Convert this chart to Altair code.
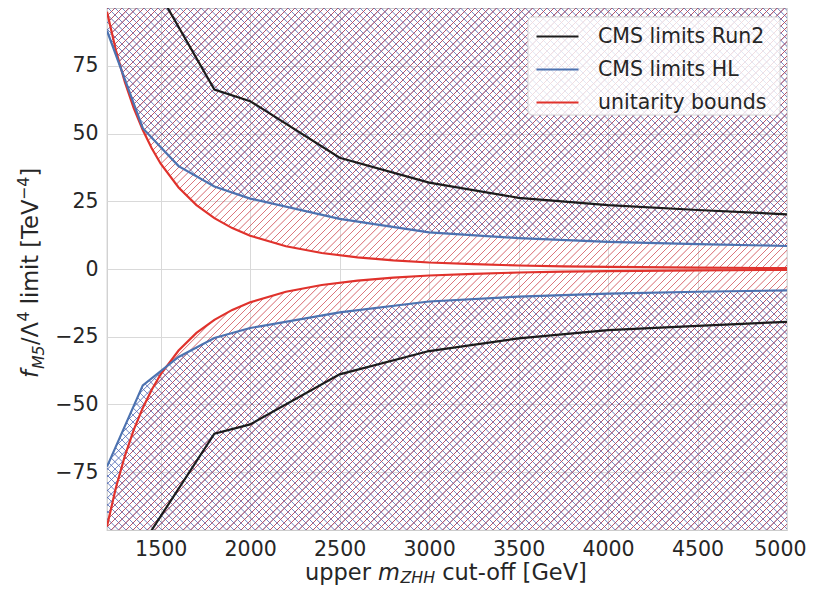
import altair as alt
import pandas as pd

# ---------------- data ----------------
series_names = ["CMS limits Run2", "CMS limits HL", "unitarity bounds"]
series_colors = ["#1c1c1c", "#4c72b0", "#e0322c"]

unit_x = [1200, 1250, 1300, 1350, 1400, 1450, 1500, 1600, 1700, 1800, 1900, 2000,
          2200, 2400, 2600, 2800, 3000, 3250, 3500, 3750, 4000, 4500, 5000]
unit_up = [95.0, 80.7, 69.0, 59.3, 51.3, 44.6, 38.9, 30.1, 23.6, 18.8, 15.1, 12.3,
           8.4, 5.9, 4.3, 3.2, 2.4, 1.77, 1.3, 1.0, 0.77, 0.48, 0.32]
unit_lo = [-95.0, -80.7, -69.0, -59.3, -51.3, -44.6, -38.9, -30.1, -23.6, -18.8, -15.1, -12.3,
           -8.4, -5.9, -4.3, -3.2, -2.4, -1.77, -1.3, -1.0, -0.77, -0.48, -0.32]

hl_x = [1200, 1400, 1600, 1800, 2000, 2500, 3000, 3500, 4000, 4500, 5000]
hl_up = [88.0, 52.0, 38.0, 30.5, 26.0, 18.5, 13.5, 11.4, 10.0, 9.2, 8.5]
hl_lo = [-73.0, -43.0, -32.5, -25.5, -21.8, -16.0, -12.0, -10.2, -9.1, -8.4, -7.9]

run2_x = [1400, 1800, 2000, 2500, 3000, 3500, 4000, 4500, 5000]
run2_up = [112.5, 66.3, 62.0, 41.1, 31.9, 26.3, 23.6, 21.8, 20.2]
run2_lo = [-101.5, -60.8, -57.4, -38.9, -30.3, -25.6, -22.6, -21.0, -19.5]

x_ticks = [1500, 2000, 2500, 3000, 3500, 4000, 4500, 5000]
y_ticks = [-75, -50, -25, 0, 25, 50, 75]

# ---------------- layout / style ----------------
W, H = 680, 522
X_DOM = [1200, 5000]
Y_DOM = [-96.4, 96.4]
FONT = "DejaVu Sans"
TXT = "#262626"
TICK_FS = 20.5
LAB_FS = 22.5
SUB_FS = 15.75
PERIOD = 7.2


def ypix(v):
    return (Y_DOM[1] - v) / (Y_DOM[1] - Y_DOM[0]) * H


def hatch(rgb, alpha, y0, box_h, kind, period=PERIOD):
    """Stripe pattern as a linear gradient over the area's bounding box,
    phased so that stripes of all areas sit on one common grid."""
    total = W + box_h
    a = total / (W ** 2 + box_h ** 2)
    clear = f"rgba({rgb},0)"
    solid = f"rgba({rgb},{alpha})"
    prof = [(0.0, clear), (0.45, solid), (1.05, solid), (1.5, clear)]
    phase = (-y0) % period if kind == "/" else (y0 + box_h) % period
    stops = [alt.GradientStop(color=clear, offset=0)]
    i = -1
    while phase + i * period < total:
        for d, c in prof:
            off = (phase + i * period + d) / total
            if 0 < off <= 1:
                stops.append(alt.GradientStop(color=c, offset=round(off, 6)))
        i += 1
    if kind == "/":
        return alt.LinearGradient(gradient="linear", stops=stops,
                                  x1=0, y1=0, x2=round(a * W, 6), y2=round(a * box_h, 6))
    return alt.LinearGradient(gradient="linear", stops=stops,
                              x1=0, y1=1, x2=round(a * W, 6), y2=round(1 - a * box_h, 6))


xenc = alt.X("x:Q", scale=alt.Scale(domain=X_DOM, nice=False, zero=False),
             axis=alt.Axis(values=x_ticks, format="d", title=None,
                           labelFlush=4, labelFlushOffset=19))
yenc = alt.Y("y:Q", scale=alt.Scale(domain=Y_DOM, nice=False, zero=False),
             axis=alt.Axis(values=y_ticks, format="d", title=None, labelFlush=False))


def area_layer(xs, ys, bound, grad):
    df = pd.DataFrame({"x": xs, "y": ys, "b": [bound] * len(xs)})
    return alt.Chart(df).mark_area(color=grad, interpolate="linear").encode(
        x=xenc, y=yenc, y2="b:Q")


RED_H = "205,66,74"
BLUE_H = "84,108,182"

# bounding boxes (top y, height) of the four hatched regions, in plot pixels
up_red = (0.0, ypix(min(unit_up)))
lo_red = (ypix(max(unit_lo)), H - ypix(max(unit_lo)))
up_hl = (0.0, ypix(min(hl_up)))
lo_hl = (ypix(max(hl_lo)), H - ypix(max(hl_lo)))

areas = [
    area_layer(hl_x, hl_up, Y_DOM[1], hatch(BLUE_H, 0.8, *up_hl, "/")),
    area_layer(hl_x, hl_up, Y_DOM[1], hatch(BLUE_H, 0.8, *up_hl, "\\")),
    area_layer(hl_x, hl_lo, Y_DOM[0], hatch(BLUE_H, 0.8, *lo_hl, "/")),
    area_layer(hl_x, hl_lo, Y_DOM[0], hatch(BLUE_H, 0.8, *lo_hl, "\\")),
    area_layer(unit_x, unit_up, Y_DOM[1], hatch(RED_H, 0.72, *up_red, "/")),
    area_layer(unit_x, unit_lo, Y_DOM[0], hatch(RED_H, 0.72, *lo_red, "/")),
]

rows = []
for name, xs, up, lo in [("unitarity bounds", unit_x, unit_up, unit_lo),
                         ("CMS limits HL", hl_x, hl_up, hl_lo),
                         ("CMS limits Run2", run2_x, run2_up, run2_lo)]:
    for xv, yv in zip(xs, up):
        rows.append({"series": name, "branch": name + " up", "x": xv, "y": yv})
    for xv, yv in zip(xs, lo):
        rows.append({"series": name, "branch": name + " lo", "x": xv, "y": yv})
lines_df = pd.DataFrame(rows)

lines = alt.Chart(lines_df).mark_line(clip=True, strokeWidth=2.2).encode(
    x=xenc, y=yenc,
    color=alt.Color("series:N", sort=series_names,
                    scale=alt.Scale(domain=series_names, range=series_colors),
                    legend=alt.Legend(title=None, orient="none", legendX=428, legendY=6,
                                      symbolType="stroke", symbolSize=1764,
                                      symbolStrokeWidth=2.2, labelFontSize=TICK_FS,
                                      labelFont=FONT, labelColor=TXT, labelOffset=18,
                                      labelLimit=400, rowPadding=-15, padding=0)),
    detail="branch:N",
)

one = pd.DataFrame({"k": [0]})

# legend frame (semi-transparent white box behind the legend entries)
legend_box = alt.Chart(one).mark_rect(
    fill="white", fillOpacity=0.8, stroke="#d6d6d6", strokeWidth=1, cornerRadius=4
).encode(x=alt.value(421), x2=alt.value(673), y=alt.value(9), y2=alt.value(107))


def label(text, x, y, size, italic=False, angle=0):
    m = dict(text=text, font=FONT, fontSize=size, color=TXT, align="left",
             baseline="alphabetic")
    if italic:
        m["fontStyle"] = "italic"
    if angle:
        m["angle"] = angle
    return alt.Chart(one).mark_text(**m).encode(x=alt.value(x), y=alt.value(y))


# x-axis title: upper m_ZHH cut-off [GeV]
XB = 572
xt = [
    label("upper", 198, XB, LAB_FS),
    label("m", 271.1, XB, LAB_FS, italic=True),
    label("ZHH", 293.5, XB + 3, SUB_FS, italic=True),
    label("cut-off [GeV]", 335.2, XB, LAB_FS),
]

# y-axis title: f_M5 / Λ^4 limit [TeV^-4]  (rotated, read bottom to top)
YX = -69
Y0 = 370.0
yt = [
    label("f", YX, Y0 - 0, LAB_FS, italic=True, angle=270),
    label("M5", YX + 5.5, Y0 - 8.9, SUB_FS, italic=True, angle=270),
    label("/Λ", YX, Y0 - 33.0, LAB_FS, angle=270),
    label("4", YX - 9.5, Y0 - 56.5, SUB_FS, angle=270),
    label("limit [TeV", YX, Y0 - 73.7, LAB_FS, angle=270),
    label("\u22124", YX - 9.5, Y0 - 178.0, SUB_FS, angle=270),
    label("]", YX, Y0 - 201.5, LAB_FS, angle=270),
]

chart = alt.layer(*areas, lines, legend_box, *xt, *yt).properties(
    width=W, height=H,
    padding={"left": 99, "top": 0, "right": 21, "bottom": 57},
    autosize=alt.AutoSizeParams(type="none"),
    background="white",
).configure_view(
    stroke="#cccccc", strokeWidth=1.25
).configure_axis(
    labelFont=FONT, labelFontSize=TICK_FS, labelColor=TXT,
    ticks=False, domain=False, labelPadding=9,
    grid=True, gridColor="#d9d9d9", gridWidth=1,
)

chart.save("out.html", embed_options={"renderer": "svg", "actions": False})
